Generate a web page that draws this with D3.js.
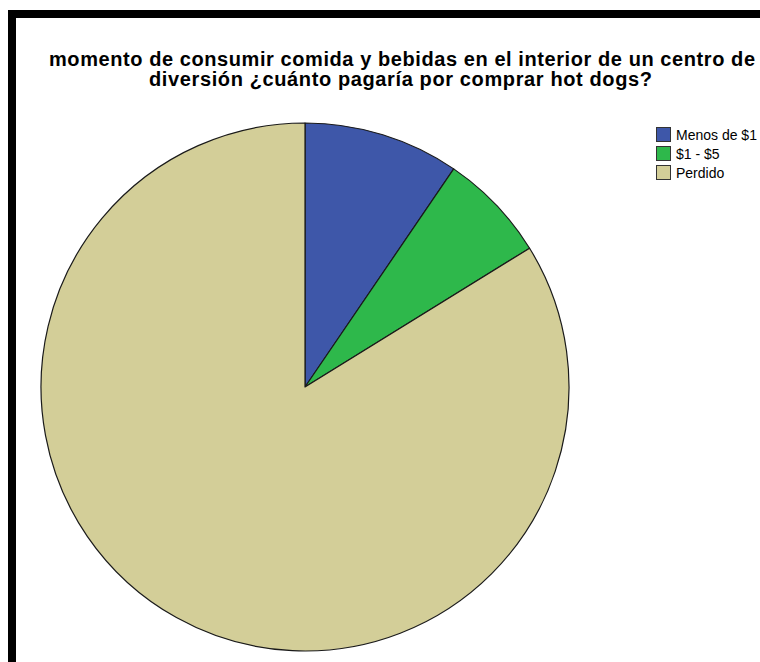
<!DOCTYPE html>
<html>
<head>
<meta charset="utf-8">
<script src="https://cdn.jsdelivr.net/npm/d3@7"></script>
<style>
html,body{margin:0;padding:0;background:#fff;}
svg{display:block;}
</style>
</head>
<body>
<svg id="chart" width="760" height="662"></svg>
<script>
const titleLines = ["momento de consumir comida y bebidas en el interior de un centro de", "diversión ¿cuánto pagaría por comprar hot dogs?"];
const categories = ["Menos de $1", "$1 - $5", "Perdido"];
const values = [10, 7, 88];
const colors = ["#3e57a9", "#2eb84b", "#d3ce98"];

const svg = d3.select("#chart");
// frame
svg.append("rect").attr("x", 0).attr("y", 0).attr("width", 760).attr("height", 662).attr("fill", "#fff");
svg.append("rect").attr("x", 8).attr("y", 10).attr("width", 760).attr("height", 8).attr("fill", "#000");
svg.append("rect").attr("x", 8).attr("y", 10).attr("width", 8).attr("height", 662).attr("fill", "#000");

const titleLen = [706, 503];
const titleX = [402, 400.5];
svg.append("g").selectAll("text").data(titleLines).join("text")
  .attr("x", (d, i) => titleX[i]).attr("y", (d, i) => 66 + i * 20).attr("text-anchor", "middle")
  .attr("font-family", "Liberation Sans, Arial, sans-serif").attr("font-weight", "bold").attr("font-size", 20)
  .attr("textLength", (d, i) => titleLen[i]).attr("lengthAdjust", "spacing")
  .text(d => d);

const cx = 305, cy = 387, r = 264;
const pie = d3.pie().sort(null).value(d => d.v);
const data = pie(categories.map((c, i) => ({c, v: values[i], col: colors[i]})));
const arc = d3.arc().innerRadius(0).outerRadius(r);
svg.append("g").attr("transform", `translate(${cx},${cy})`)
  .selectAll("path").data(data).join("path")
  .attr("d", arc).attr("fill", d => d.data.col)
  .attr("stroke", "#1a1a1a").attr("stroke-width", 1.2).attr("stroke-linejoin", "round");

const lg = svg.append("g").attr("transform", "translate(656,127)");
const items = lg.selectAll("g").data(categories).join("g")
  .attr("transform", (d, i) => `translate(0,${i * 19})`);
items.append("rect").attr("x", 0.5).attr("y", 0.5).attr("width", 14).attr("height", 14)
  .attr("fill", (d, i) => colors[i]).attr("stroke", "#333").attr("stroke-width", 1);
items.append("text").attr("x", 20).attr("y", 12.5).attr("font-family", "Liberation Sans, Arial, sans-serif")
  .attr("font-size", 14).attr("fill", "#000").text(d => d);
</script>
</body>
</html>
